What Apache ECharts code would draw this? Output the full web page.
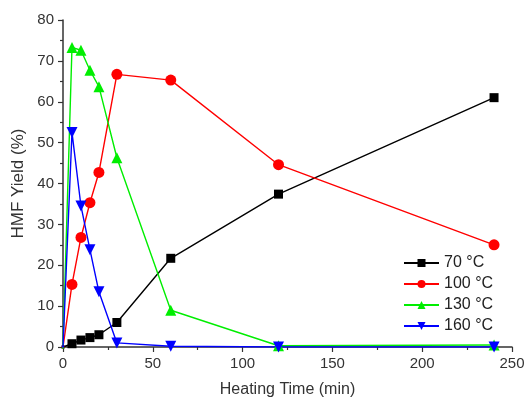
<!DOCTYPE html>
<html>
<head>
<meta charset="utf-8">
<script src="https://cdn.jsdelivr.net/npm/echarts@6/dist/echarts.min.js"></script>
<style>
  html, body { margin: 0; padding: 0; background: #fff; }
  #chart { width: 525px; height: 400px; }
</style>
</head>
<body>
<div id="chart"></div>
<script>
// heating time (min)
const times = [0, 5, 10, 15, 20, 30, 60, 120, 240];

// HMF yield (%) per temperature
const yield70 = [0, 0.8, 1.7, 2.3, 3.0, 6.0, 21.7, 37.4, 61.0];
const yield100 = [0, 15.3, 26.8, 35.3, 42.7, 66.7, 65.3, 44.6, 25.0];
const yield130 = [0, 73.3, 72.6, 67.7, 63.7, 46.3, 9.0, 0.3, 0.5];
const yield160 = [0, 52.5, 34.5, 23.8, 13.5, 1.0, 0.2, 0, 0];

const seriesNames = ['70 °C', '100 °C', '130 °C', '160 °C'];
const seriesColors = ['#000000', '#ff0000', '#00ee00', '#0000ff'];

const font = 'Liberation Sans, Arial, sans-serif';

function pairs(ys) {
  return times.map((t, i) => [t, ys[i]]);
}

function makeSeries(name, ys, color, symbol, rotate) {
  const size = symbol === 'rect' ? 9 : 11;
  return {
    name,
    type: 'line',
    data: pairs(ys),
    symbol,
    symbolRotate: rotate || 0,
    // the origin point sits on the axes and is hidden there in the original
    symbolSize: (v) => (v[0] === 0 ? 3 : size),
    lineStyle: { color, width: 1.4 },
    itemStyle: { color },
    clip: true,
  };
}

const chart = echarts.init(document.getElementById('chart'));

chart.setOption({
  animation: false,
  grid: { left: 63, right: 13, top: 20, bottom: 53, outerBoundsMode: 'none' },
  legend: {
    orient: 'vertical',
    left: 398,
    top: 250,
    itemWidth: 35,
    itemHeight: 10,
    itemGap: 5,
    textStyle: { fontFamily: font, fontSize: 16, color: '#222' },
    data: seriesNames,
  },
  xAxis: {
    type: 'value',
    min: 0,
    max: 250,
    interval: 50,
    name: 'Heating Time (min)',
    nameLocation: 'middle',
    nameGap: 35,
    nameTextStyle: { fontFamily: font, fontSize: 16, color: '#333' },
    axisLine: { lineStyle: { color: '#333', width: 1.5 } },
    axisTick: { inside: false, length: 5, lineStyle: { color: '#333', width: 1.2 } },
    minorTick: { show: true, splitNumber: 2, length: 3, lineStyle: { color: '#333', width: 1.2 } },
    axisLabel: { fontFamily: font, fontSize: 15, color: '#333', margin: 9 },
    splitLine: { show: false },
  },
  yAxis: {
    type: 'value',
    min: 0,
    max: 80,
    interval: 10,
    name: 'HMF Yield (%)',
    nameLocation: 'middle',
    nameGap: 32,
    nameTextStyle: { fontFamily: font, fontSize: 17, color: '#333' },
    axisLine: { show: true, lineStyle: { color: '#333', width: 1.5 } },
    axisTick: { show: true, inside: false, length: 5, lineStyle: { color: '#333', width: 1.2 } },
    minorTick: { show: true, splitNumber: 2, length: 3, lineStyle: { color: '#333', width: 1.2 } },
    axisLabel: { fontFamily: font, fontSize: 15, color: '#333', margin: 9 },
    splitLine: { show: false },
  },
  series: [
    makeSeries(seriesNames[0], yield70, seriesColors[0], 'rect'),
    makeSeries(seriesNames[1], yield100, seriesColors[1], 'circle'),
    makeSeries(seriesNames[2], yield130, seriesColors[2], 'triangle'),
    makeSeries(seriesNames[3], yield160, seriesColors[3], 'triangle', 180),
  ],
});
</script>
</body>
</html>
